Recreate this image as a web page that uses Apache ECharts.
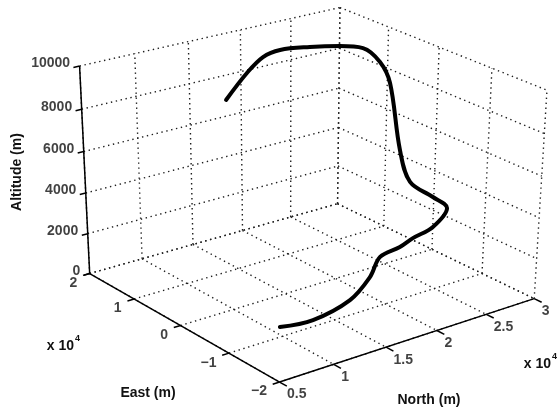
<!DOCTYPE html>
<html>
<head>
<meta charset="utf-8">
<script src="https://cdn.jsdelivr.net/npm/echarts@6/dist/echarts.min.js"></script>
<style>
  html, body { margin: 0; padding: 0; background: #fff; }
  #chart { width: 560px; height: 413px; }
</style>
</head>
<body>
<div id="chart"></div>
<script>
// ---- axis ranges and ticks (metres) ----
const northRange = [5000, 30000];
const eastRange = [20000, -20000];          // back edge at +2e4, front edge at -2e4
const altRange = [0, 10000];

const northTicks = [5000, 10000, 15000, 20000, 25000, 30000];
const northTickLabels = ['0.5', '1', '1.5', '2', '2.5', '3'];
const eastTicks = [20000, 10000, 0, -10000, -20000];
const eastTickLabels = ['2', '1', '0', '\u22121', '\u22122'];
const altTicks = [0, 2000, 4000, 6000, 8000, 10000];
const altTickLabels = ['0', '2000', '4000', '6000', '8000', '10000'];

// ---- flight path ----
const trackNorth = [10850, 13650, 17475, 19425, 20400, 22375, 23675, 25700, 27575, 27050,
                    26825, 26925, 27250, 27250, 26350, 23900, 21850, 19700, 18075, 16325, 13675];
const trackEast  = [-7640, -8440, -8000, -8000, -8000, -8000, -8000, -8000, -7120, -5280,
                    -1160, 1200, 4120, 6200, 7880, 7600, 9480, 11040, 11080, 10640, 9200];
const trackAlt   = [0, 0, 330, 1170, 2020, 2220, 2470, 2730, 3300, 3700,
                    4000, 5300, 8200, 9000, 9600, 10000, 10000, 9950, 9800, 9300, 8500];

// ---- perspective camera: box coordinates (u,v,w in 0..1) -> screen pixels ----
// placements of the box frame used to fit a pinhole projection
const frameRefs = [
  [0, 0, 0, 91, 274], [1, 0, 0, 338, 204], [1, 1, 0, 532, 298], [0, 1, 0, 281, 382],
  [0, 0, 1, 80, 67], [1, 0, 1, 340, 7], [1, 1, 1, 547, 90],
  [0, 0.25, 0, 133, 299], [0, 0.5, 0, 180, 326], [0, 0.75, 0, 228, 353],
  [0.2, 1, 0, 333, 363], [0.4, 1, 0, 387, 347], [0.6, 1, 0, 437, 332], [0.8, 1, 0, 488, 315],
  [0, 0, 0.2, 88, 232], [0, 0, 0.4, 85, 193], [0, 0, 0.6, 83, 152], [0, 0, 0.8, 82, 109]
];

function solveLinear(A, b) {
  const n = b.length;
  for (let i = 0; i < n; i++) {
    let p = i;
    for (let r = i + 1; r < n; r++) if (Math.abs(A[r][i]) > Math.abs(A[p][i])) p = r;
    [A[i], A[p]] = [A[p], A[i]];
    [b[i], b[p]] = [b[p], b[i]];
    for (let r = i + 1; r < n; r++) {
      const f = A[r][i] / A[i][i];
      for (let c = i; c < n; c++) A[r][c] -= f * A[i][c];
      b[r] -= f * b[i];
    }
  }
  const x = new Array(n).fill(0);
  for (let i = n - 1; i >= 0; i--) {
    let s = b[i];
    for (let c = i + 1; c < n; c++) s -= A[i][c] * x[c];
    x[i] = s / A[i][i];
  }
  return x;
}

// least-squares DLT fit of a 3x4 projection matrix
function fitCamera(refs) {
  const cx = 280, cy = 200, sc = 200;
  const rows = [], rhs = [];
  refs.forEach(([u, v, w, x, y]) => {
    const X = (x - cx) / sc, Y = (y - cy) / sc;
    rows.push([u, v, w, 1, 0, 0, 0, 0, -X * u, -X * v, -X * w]); rhs.push(X);
    rows.push([0, 0, 0, 0, u, v, w, 1, -Y * u, -Y * v, -Y * w]); rhs.push(Y);
  });
  const n = 11;
  const M = Array.from({ length: n }, () => new Array(n).fill(0));
  const b = new Array(n).fill(0);
  rows.forEach((r, k) => {
    for (let i = 0; i < n; i++) {
      b[i] += r[i] * rhs[k];
      for (let j = 0; j < n; j++) M[i][j] += r[i] * r[j];
    }
  });
  const p = solveLinear(M, b);
  return (u, v, w) => {
    const d = p[8] * u + p[9] * v + p[10] * w + 1;
    return [cx + sc * (p[0] * u + p[1] * v + p[2] * w + p[3]) / d,
            cy + sc * (p[4] * u + p[5] * v + p[6] * w + p[7]) / d];
  };
}

const project = fitCamera(frameRefs);
const uOf = n => (n - northRange[0]) / (northRange[1] - northRange[0]);
const vOf = e => (eastRange[0] - e) / (eastRange[0] - eastRange[1]);
const wOf = a => (a - altRange[0]) / (altRange[1] - altRange[0]);

const series = [];
const dotted = { color: '#1e1e1e', width: 1.4, type: [1.4, 3.6] };
function segment(p, q, style, z) {
  series.push({
    type: 'line', data: [p, q], symbol: 'none', silent: true, animation: false,
    lineStyle: style, z: z || 1
  });
}

// grid on the floor and the two back walls
const us = northTicks.map(uOf), vs = eastTicks.map(vOf), ws = altTicks.map(wOf);
us.forEach(u => segment(project(u, 0, 0), project(u, 1, 0), dotted));
vs.forEach(v => segment(project(0, v, 0), project(1, v, 0), dotted));
us.forEach(u => segment(project(u, 0, 0), project(u, 0, 1), dotted));
ws.forEach(w => segment(project(0, 0, w), project(1, 0, w), dotted));
vs.forEach(v => segment(project(1, v, 0), project(1, v, 1), dotted));
ws.forEach(w => segment(project(1, 0, w), project(1, 1, w), dotted));

// solid axis lines and tick marks
const solid = { color: '#000', width: 1.5, type: 'solid' };
segment(project(0, 0, 0), project(0, 0, 1), solid, 3);
segment(project(0, 0, 0), project(0, 1, 0), solid, 3);
segment(project(0, 1, 0), project(1, 1, 0), solid, 3);
ws.forEach(w => segment(project(0, 0, w), project(-0.022, 0, w), solid, 3));
vs.forEach(v => segment(project(0, v, 0), project(-0.025, v, 0), solid, 3));
us.forEach(u => segment(project(u, 1, 0), project(u, 1.035, 0), solid, 3));

// flight path
series.push({
  type: 'line', smooth: 0.35, symbol: 'none', animation: false, z: 5,
  data: trackNorth.map((n, i) => project(uOf(n), vOf(trackEast[i]), wOf(trackAlt[i]))),
  lineStyle: { color: '#000', width: 4, cap: 'round', join: 'round' }
});

// tick labels
const labelFont = { fontFamily: '"Liberation Sans", Arial, sans-serif', fontWeight: 'bold', fontSize: 14, color: '#111' };
function labelSeries(points, texts, dx, dy, align) {
  series.push({
    type: 'scatter', symbolSize: 1, silent: true, animation: false, z: 6,
    itemStyle: { color: 'rgba(0,0,0,0)' },
    data: points.map((p, i) => ({ value: [p[0] + dx, p[1] + dy], name: texts[i] })),
    label: Object.assign({
      show: true, position: [0, 0], align: align, verticalAlign: 'middle',
      formatter: d => d.name
    }, labelFont)
  });
}
labelSeries(ws.map(w => project(0, 0, w)), altTickLabels, -9, -2, 'right');
labelSeries(vs.map(v => project(0, v, 0)), eastTickLabels, -12, 10, 'right');
labelSeries(us.map(u => project(u, 1, 0)), northTickLabels, 8, 13, 'left');

const font = 'bold 14px "Liberation Sans", Arial, sans-serif';
const small = 'bold 9px "Liberation Sans", Arial, sans-serif';
const chart = echarts.init(document.getElementById('chart'), null, { renderer: 'canvas' });
chart.setOption({
  backgroundColor: '#fff',
  animation: false,
  grid: { left: 0, right: 0, top: 0, bottom: 0 },
  xAxis: { type: 'value', min: 0, max: 560, show: false },
  yAxis: { type: 'value', min: 0, max: 413, inverse: true, show: false },
  series: series,
  graphic: [
    { type: 'text', x: 17, y: 172, rotation: Math.PI / 2,
      style: { text: 'Altitude (m)', font: font, fill: '#111', textAlign: 'center', textVerticalAlign: 'middle' } },
    { type: 'text', x: 148, y: 393,
      style: { text: 'East (m)', font: font, fill: '#111', textAlign: 'center', textVerticalAlign: 'middle' } },
    { type: 'text', x: 429, y: 400,
      style: { text: 'North (m)', font: font, fill: '#111', textAlign: 'center', textVerticalAlign: 'middle' } },
    { type: 'text', x: 74, y: 346,
      style: { text: 'x 10', font: font, fill: '#111', textAlign: 'right', textVerticalAlign: 'middle' } },
    { type: 'text', x: 75, y: 339,
      style: { text: '4', font: small, fill: '#111', textAlign: 'left', textVerticalAlign: 'middle' } },
    { type: 'text', x: 551, y: 364,
      style: { text: 'x 10', font: font, fill: '#111', textAlign: 'right', textVerticalAlign: 'middle' } },
    { type: 'text', x: 552, y: 357,
      style: { text: '4', font: small, fill: '#111', textAlign: 'left', textVerticalAlign: 'middle' } }
  ]
});
</script>
</body>
</html>
